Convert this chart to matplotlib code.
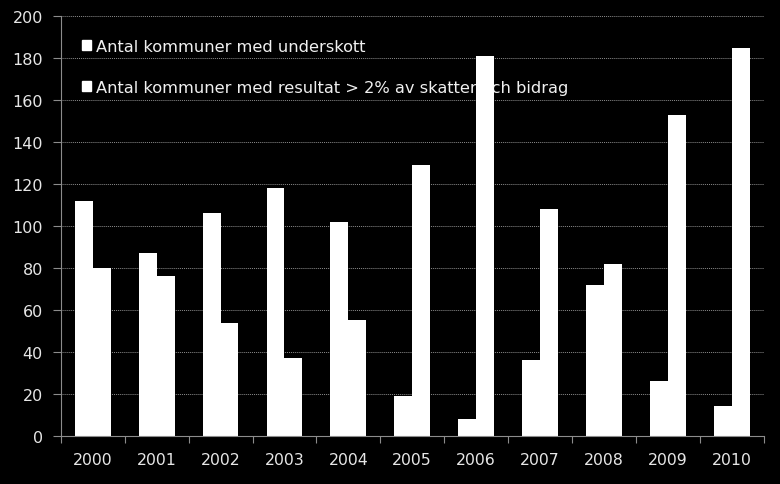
import matplotlib
matplotlib.use("Agg")
import matplotlib.pyplot as plt
import numpy as np
from matplotlib.patches import Patch

years = ["2000", "2001", "2002", "2003", "2004", "2005", "2006", "2007", "2008", "2009", "2010"]
underskott = [112, 87, 106, 118, 102, 19, 8, 36, 72, 26, 14]
resultat = [80, 76, 54, 37, 55, 129, 181, 108, 82, 153, 185]
labels = ["Antal kommuner med underskott",
          "Antal kommuner med resultat > 2% av skatter och bidrag"]

plt.rcParams['font.family'] = ['DejaVu Sans']
fig = plt.figure(figsize=(7.8, 4.85), dpi=100, facecolor='black')
ax = fig.add_axes([0.078, 0.0996, 0.901, 0.8644], facecolor='black')

x = np.arange(len(years))
w = 0.28
ax.bar(x - w / 2, underskott, width=w, color='white', zorder=3)
ax.bar(x + w / 2, resultat, width=w, color='white', zorder=3)

ax.set_xlim(-0.5, len(years) - 0.5)
ax.set_ylim(0, 200)
ax.set_yticks(np.arange(0, 201, 20))
ax.yaxis.grid(True, color='#8c8c8c', linestyle=(0, (1, 1)), linewidth=0.7, zorder=0)
ax.set_axisbelow(True)

ax.set_xticks(np.arange(-0.5, len(years), 1))
ax.set_xticklabels([])
ax.set_xticks(x, minor=True)
ax.set_xticklabels(years, minor=True)
ax.tick_params(axis='x', which='major', length=5, color='#8c8c8c', direction='out')
ax.tick_params(axis='x', which='minor', length=0, pad=12, labelsize=11.3, labelcolor='#e6e6e6')
ax.tick_params(axis='y', length=6, color='#8c8c8c', pad=7, labelsize=11.5, labelcolor='#e6e6e6')

for s in ['top', 'right']:
    ax.spines[s].set_visible(False)
for s in ['left', 'bottom']:
    ax.spines[s].set_color('#8c8c8c')
    ax.spines[s].set_zorder(4)

handles = [Patch(facecolor='white', edgecolor='white'), Patch(facecolor='white', edgecolor='white')]
leg = ax.legend(handles, labels, loc='upper left', bbox_to_anchor=(0.007, 0.985),
                frameon=False, fontsize=11.7, labelcolor='#f0f0f0',
                handlelength=0.55, handleheight=0.55, handletextpad=0.3,
                labelspacing=1.6, borderaxespad=0.6)
leg.set_zorder(2)

fig.savefig("out.png", dpi=100, facecolor='black')
